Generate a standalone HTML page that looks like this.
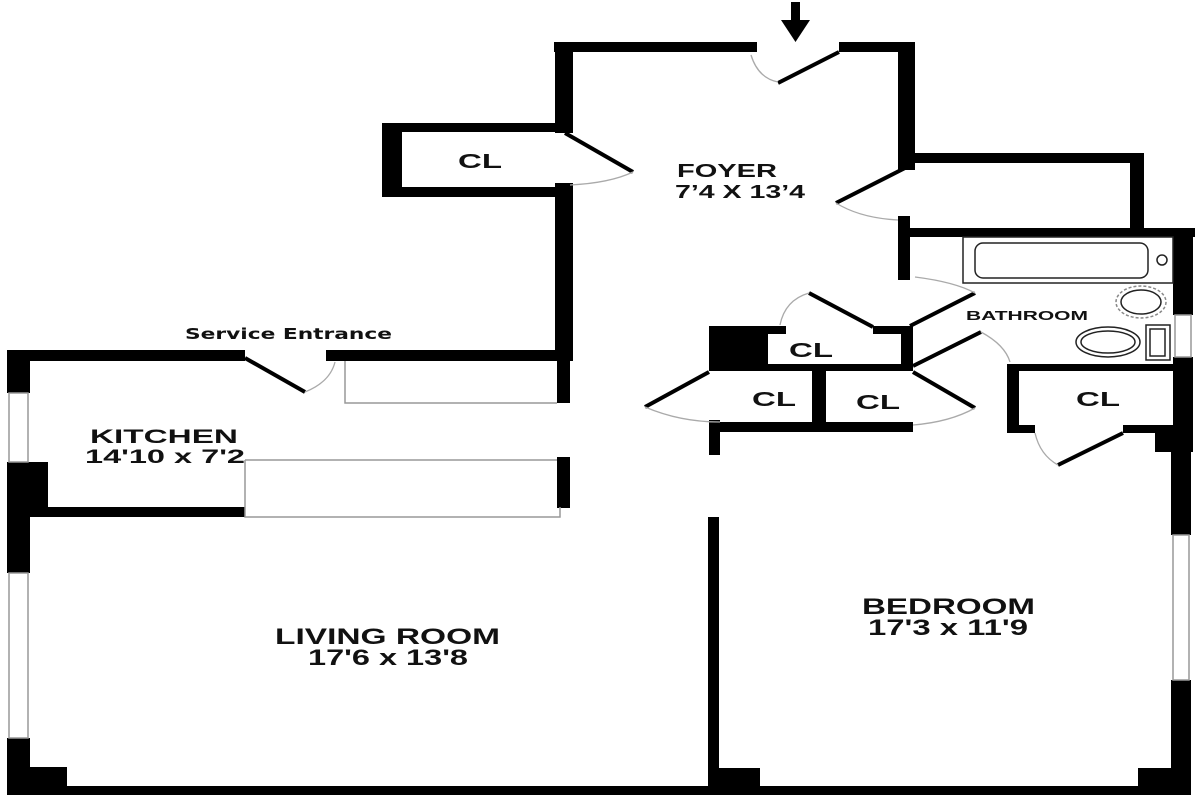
<!DOCTYPE html>
<html><head><meta charset="utf-8"><style>
html,body{margin:0;padding:0;background:#fff;width:1200px;height:800px;overflow:hidden}
svg{display:block}
text{font-family:"Liberation Sans",sans-serif;font-weight:bold;fill:#111}
</style></head><body>
<svg width="1200" height="800" viewBox="0 0 1200 800" xmlns="http://www.w3.org/2000/svg">
<g fill="#000">
<rect x="791" y="2" width="9" height="22"/>
<polygon points="781,20 810,20 795.5,42"/>
<rect x="554" y="42" width="203" height="10"/>
<rect x="839" y="42" width="76" height="10"/>
<rect x="555" y="42" width="18" height="91"/>
<rect x="555" y="183" width="18" height="177"/>
<rect x="557" y="360" width="13" height="43"/>
<rect x="557" y="457" width="13" height="51"/>
<rect x="382" y="123" width="191" height="9"/>
<rect x="382" y="187" width="191" height="10"/>
<rect x="382" y="123" width="20" height="74"/>
<rect x="898" y="42" width="17" height="128"/>
<rect x="898" y="153" width="246" height="10"/>
<rect x="1130" y="153" width="14" height="80"/>
<rect x="898" y="228" width="297" height="9"/>
<rect x="898" y="216" width="12" height="64"/>
<rect x="1173" y="228" width="20" height="87"/>
<rect x="1173" y="357" width="20" height="80"/>
<rect x="1007" y="364" width="186" height="7"/>
<rect x="1007" y="364" width="12" height="69"/>
<rect x="1007" y="425" width="28" height="8"/>
<rect x="1123" y="425" width="51" height="8"/>
<rect x="1155" y="425" width="38" height="27"/>
<rect x="709" y="326" width="59" height="45"/>
<rect x="709" y="326" width="77" height="8"/>
<rect x="873" y="326" width="40" height="8"/>
<rect x="901" y="326" width="12" height="45"/>
<rect x="709" y="364" width="204" height="7"/>
<rect x="812" y="364" width="14" height="68"/>
<rect x="710" y="422" width="203" height="10"/>
<rect x="709" y="420" width="11" height="35"/>
<rect x="708" y="517" width="11" height="278"/>
<rect x="708" y="768" width="52" height="27"/>
<rect x="1171" y="437" width="20" height="98"/>
<rect x="1171" y="680" width="20" height="115"/>
<rect x="1138" y="768" width="53" height="27"/>
<rect x="8" y="786" width="1183" height="9"/>
<rect x="7" y="350" width="238" height="11"/>
<rect x="326" y="350" width="247" height="11"/>
<rect x="7" y="350" width="23" height="43"/>
<rect x="7" y="462" width="41" height="51"/>
<rect x="7" y="462" width="23" height="111"/>
<rect x="30" y="507" width="215" height="10"/>
<rect x="7" y="738" width="23" height="57"/>
<rect x="7" y="767" width="60" height="28"/>
</g>
<g fill="#fff" stroke="#999" stroke-width="1.5">
<rect x="9" y="393" width="19" height="69"/>
<rect x="9" y="573" width="19" height="165"/>
<rect x="1173" y="535" width="16" height="145"/>
<rect x="1175" y="315" width="16" height="42"/>
</g>
<g fill="none" stroke="#999" stroke-width="1.5">
<polyline points="345,361 345,403 557,403"/>
<polyline points="245,460 557,460"/>
<polyline points="245,460 245,517 560,517 560,507"/>
</g>
<g stroke="#000" stroke-width="4" fill="none">
<line x1="839" y1="52" x2="778" y2="83"/>
<line x1="565" y1="133" x2="633" y2="172"/>
<line x1="905" y1="168" x2="836" y2="203"/>
<line x1="245" y1="358" x2="305" y2="392"/>
<line x1="873" y1="327" x2="809" y2="293"/>
<line x1="910" y1="326" x2="975" y2="293"/>
<line x1="913" y1="366" x2="981" y2="332"/>
<line x1="709" y1="372" x2="645" y2="407"/>
<line x1="913" y1="372" x2="975" y2="408"/>
<line x1="1123" y1="433" x2="1058" y2="465"/>
</g>
<g stroke="#aaa" stroke-width="1.3" fill="none">
<path d="M751,55 Q758,78 778,82"/>
<path d="M633,172 Q610,183 570,185"/>
<path d="M836,203 Q860,218 898,220"/>
<path d="M305,392 Q330,382 335,362"/>
<path d="M780,325 Q785,300 809,293"/>
<path d="M915,277 Q955,282 975,293"/>
<path d="M981,332 Q1005,345 1010,362"/>
<path d="M645,407 Q680,422 720,422"/>
<path d="M975,408 Q950,422 913,425"/>
<path d="M1035,433 Q1040,455 1058,465"/>
</g>
<g fill="none" stroke="#222" stroke-width="1.5">
<rect x="963" y="237" width="210" height="46"/>
<rect x="975" y="243" width="173" height="35" rx="8"/>
<ellipse cx="1141" cy="302" rx="25" ry="16" stroke="#888" stroke-dasharray="3,2"/>
<ellipse cx="1141" cy="302" rx="20" ry="12"/>
<ellipse cx="1108" cy="342" rx="32" ry="15"/>
<ellipse cx="1108" cy="342" rx="27" ry="11"/>
<rect x="1146" y="325" width="24" height="35"/>
<rect x="1150" y="329" width="15" height="27"/>
<circle cx="1162" cy="260" r="5"/>
</g>
<g lengthAdjust="spacingAndGlyphs">
<text x="458" y="168" font-size="20" textLength="44" lengthAdjust="spacingAndGlyphs">CL</text>
<text x="677" y="177" font-size="18" textLength="100" lengthAdjust="spacingAndGlyphs">FOYER</text>
<text x="675" y="198" font-size="18" textLength="130" lengthAdjust="spacingAndGlyphs">7’4 X 13’4</text>
<text x="966" y="320" font-size="13" textLength="122" lengthAdjust="spacingAndGlyphs">BATHROOM</text>
<text x="789" y="357" font-size="20" textLength="44" lengthAdjust="spacingAndGlyphs">CL</text>
<text x="752" y="406" font-size="20" textLength="44" lengthAdjust="spacingAndGlyphs">CL</text>
<text x="856" y="409" font-size="20" textLength="44" lengthAdjust="spacingAndGlyphs">CL</text>
<text x="1076" y="406" font-size="20" textLength="44" lengthAdjust="spacingAndGlyphs">CL</text>
<text x="185" y="339" font-size="15" textLength="207" lengthAdjust="spacingAndGlyphs" style="font-family:'DejaVu Sans',sans-serif">Service Entrance</text>
<text x="90" y="443" font-size="19" textLength="148" lengthAdjust="spacingAndGlyphs">KITCHEN</text>
<text x="85" y="463" font-size="19" textLength="160" lengthAdjust="spacingAndGlyphs">14'10 x 7'2</text>
<text x="275" y="644" font-size="22" textLength="225" lengthAdjust="spacingAndGlyphs">LIVING ROOM</text>
<text x="308" y="665" font-size="22" textLength="160" lengthAdjust="spacingAndGlyphs">17'6 x 13'8</text>
<text x="862" y="614" font-size="22" textLength="173" lengthAdjust="spacingAndGlyphs">BEDROOM</text>
<text x="868" y="635" font-size="22" textLength="160" lengthAdjust="spacingAndGlyphs">17'3 x 11'9</text>
</g>
</svg>
</body></html>
